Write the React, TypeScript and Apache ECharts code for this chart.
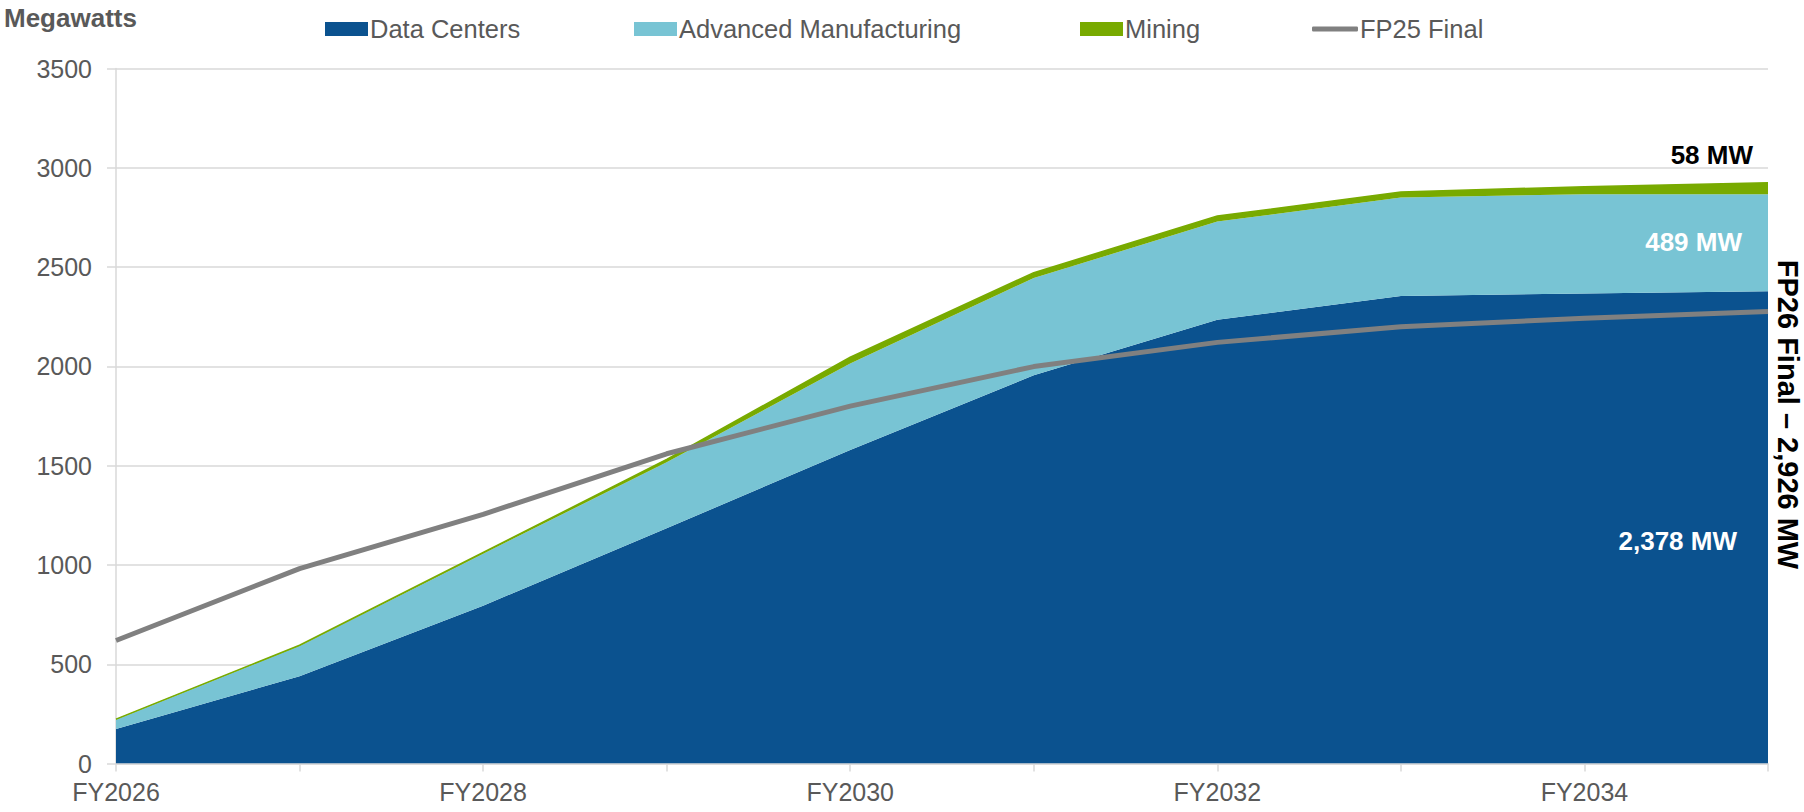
import React, { useEffect, useRef } from "react";
import * as echarts from "echarts";

const categories = ["FY2026", "FY2027", "FY2028", "FY2029", "FY2030", "FY2031", "FY2032", "FY2033", "FY2034", "FY2035"];
const dataCenters = [174, 440, 795, 1185, 1579, 1955, 2235, 2355, 2367, 2378];
const advancedManufacturing = [47, 152, 262, 332, 436, 490, 494, 495, 500, 489];
const mining = [3, 4, 6, 15, 31, 27, 28, 28, 38, 58];
const fp25Final = [620, 982, 1255, 1560, 1800, 1999, 2121, 2200, 2242, 2276];
const yTicks = { min: 0, max: 3500, interval: 500 };

const FONT = '"Liberation Sans", Arial, sans-serif';
const C_DC = "#0B528F";
const C_ADV = "#78C4D4";
const C_MIN = "#78AA00";
const C_FP = "#808080";
const GRID = "#D9D9D9";
const TXT = "#595959";

export default function App() {
  const ref = useRef<HTMLDivElement>(null);
  useEffect(() => {
    if (!ref.current) return;
    const chart = echarts.init(ref.current, undefined, { renderer: "svg" });
    const legendBase = {
      top: 16,
      padding: 0,
      itemWidth: 43,
      itemHeight: 14,
      selectedMode: false,
      textStyle: { fontFamily: FONT, fontSize: 25.5, color: TXT, padding: [0, 0, 0, -3] },
    };
    chart.setOption({
      animation: false,
      textStyle: { fontFamily: FONT },
      grid: { left: 116, right: 36, top: 68.5, bottom: 48.4, containLabel: false },
      legend: [
        { ...legendBase, left: 325, data: [{ name: "Data Centers", icon: "rect" }] },
        { ...legendBase, left: 634, data: [{ name: "Advanced Manufacturing", icon: "rect" }] },
        { ...legendBase, left: 1080, data: [{ name: "Mining", icon: "rect" }] },
        { ...legendBase, left: 1312, itemWidth: 46, itemHeight: 5, data: [{ name: "FP25 Final", icon: "roundRect" }] },
      ],
      xAxis: {
        type: "category",
        data: categories,
        boundaryGap: false,
        axisLine: { lineStyle: { color: GRID, width: 1.5 } },
        axisTick: { show: true, interval: 0, length: 8, lineStyle: { color: GRID, width: 1.5 } },
        axisLabel: { interval: 1, fontSize: 25, color: TXT, margin: 16, fontFamily: FONT },
        splitLine: { show: false },
      },
      yAxis: {
        type: "value",
        min: yTicks.min,
        max: yTicks.max,
        interval: yTicks.interval,
        axisLine: { show: true, lineStyle: { color: GRID, width: 1.5 } },
        axisTick: { show: true, length: 9, lineStyle: { color: GRID, width: 1.5 } },
        axisLabel: { fontSize: 25, color: TXT, margin: 24, fontFamily: FONT, formatter: (v: number) => String(v) },
        splitLine: { lineStyle: { color: GRID, width: 1.5 } },
      },
      series: [
        {
          name: "Data Centers",
          type: "line",
          stack: "total",
          data: dataCenters,
          symbol: "none",
          lineStyle: { width: 0 },
          itemStyle: { color: C_DC },
          areaStyle: { color: C_DC, opacity: 1 },
        },
        {
          name: "Advanced Manufacturing",
          type: "line",
          stack: "total",
          data: advancedManufacturing,
          symbol: "none",
          lineStyle: { width: 0 },
          itemStyle: { color: C_ADV },
          areaStyle: { color: C_ADV, opacity: 1 },
        },
        {
          name: "Mining",
          type: "line",
          stack: "total",
          data: mining,
          symbol: "none",
          lineStyle: { width: 1.5, color: C_MIN },
          itemStyle: { color: C_MIN },
          areaStyle: { color: C_MIN, opacity: 1 },
        },
        {
          name: "FP25 Final",
          type: "line",
          data: fp25Final,
          symbol: "none",
          lineStyle: { width: 5, color: C_FP },
          itemStyle: { color: C_FP },
          z: 5,
        },
      ],
      graphic: [
        {
          type: "text",
          left: 4,
          top: 5,
          style: { text: "Megawatts", fontFamily: FONT, fontSize: 26, fontWeight: "bold", fill: TXT },
        },
        {
          type: "text",
          x: 1753,
          y: 154.5,
          style: { text: "58 MW", fontFamily: FONT, fontSize: 26, fontWeight: "bold", fill: "#000", textAlign: "right", textVerticalAlign: "middle" },
          z: 10,
        },
        {
          type: "text",
          x: 1742,
          y: 242,
          style: { text: "489 MW", fontFamily: FONT, fontSize: 26, fontWeight: "bold", fill: "#fff", textAlign: "right", textVerticalAlign: "middle" },
          z: 10,
        },
        {
          type: "text",
          x: 1737,
          y: 541,
          style: { text: "2,378 MW", fontFamily: FONT, fontSize: 26, fontWeight: "bold", fill: "#fff", textAlign: "right", textVerticalAlign: "middle" },
          z: 10,
        },
        {
          type: "text",
          x: 1788,
          y: 414.5,
          rotation: -Math.PI / 2,
          style: { text: "FP26 Final – 2,926 MW", fontFamily: FONT, fontSize: 29, fontWeight: "bold", fill: "#000", textAlign: "center", textVerticalAlign: "middle" },
          z: 10,
        },
      ],
    });
    return () => chart.dispose();
  }, []);
  return (
    <div
      ref={ref}
      style={{ position: "absolute", left: 0, top: 0, width: 1804, height: 812, background: "#fff" }}
    />
  );
}
